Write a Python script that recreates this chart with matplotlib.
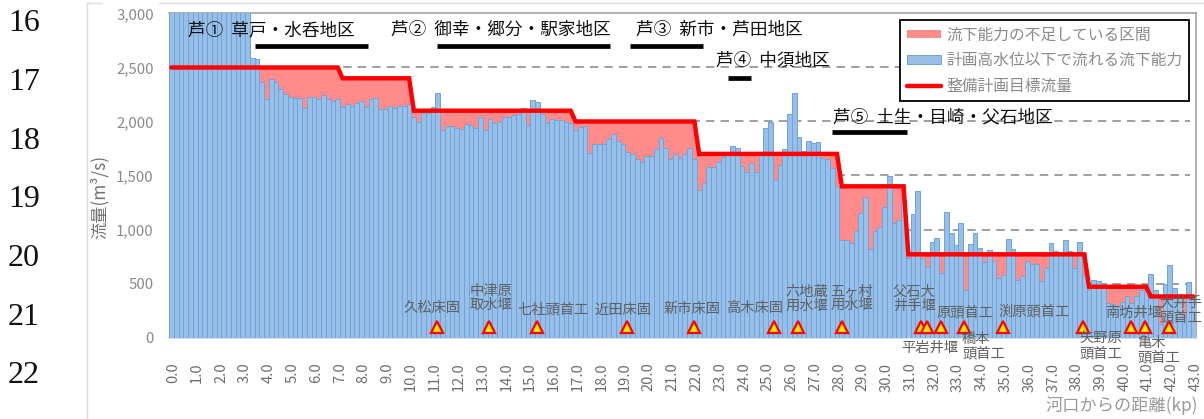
import matplotlib
matplotlib.use("Agg")
import matplotlib.pyplot as plt
from matplotlib.lines import Line2D
from matplotlib.transforms import ScaledTranslation
import numpy as np

plt.rcParams['font.family'] = ['Noto Sans CJK JP', 'DejaVu Sans']

W, H = 1204, 419

# ---- data ----
km = [round(i * 0.2, 1) for i in range(216)]
capacity = [
    3200, 3200, 3200, 3200, 3200, 3200, 3200, 3200, 3200, 3200, 3200, 3200, 3200, 3200, 3200, 3200, 3200,
    2590, 2576, 2369, 2208, 2390, 2369, 2298, 2254, 2230, 2220, 2214, 2125, 2224, 2230, 2205, 2248, 2205,
    2186, 2208, 2137, 2159, 2146, 2168, 2193, 2131, 2205, 2214, 2112, 2112, 2143, 2122, 2146, 2143,
    2159, 2045, 1992, 2075, 2075, 2131, 2261, 1921, 1955, 1955, 1943, 1927, 1980, 1964, 1936, 2041, 1921,
    2020, 1983, 1995, 2041, 2041, 2057, 2069, 2122, 1964, 2196, 2177, 2072, 1986, 2026, 2017, 2011, 1995,
    1983, 1924, 1946, 1961, 1711, 1794, 1788, 1788, 1835, 1884, 1819, 1794, 1714, 1696, 1656, 1622, 1677,
    1677, 1742, 1844, 1757, 1656, 1696, 1662, 1696, 1751, 1656, 1362, 1427, 1575, 1575, 1622, 1674, 1700,
    1773, 1751, 1591, 1529, 1615, 1535, 1700, 1936, 1992, 1455, 1600, 1742, 2066, 2267, 1853, 1727, 1819,
    1801, 1807, 1659, 1656, 1572, 1403, 905, 902, 872, 986, 1149, 1304, 819, 986, 1026, 1211, 1495, 1057,
    1088, 1273, 739, 1140, 1359, 739, 655, 881, 918, 600, 1165, 964, 856, 1057, 439, 865, 967, 825, 702,
    813, 708, 547, 578, 912, 820, 533, 573, 709, 684, 684, 520, 641, 872, 804, 770, 906, 804, 647, 888,
    579, 440, 533, 526, 502, 317, 307, 286, 326, 384, 317, 384, 440, 440, 588, 440, 125, 496, 672, 455,
    370, 193, 517, 380,
]
target = ([2500] * 36 + [2400] * 15 + [2100] * 34 + [2000] * 26 + [1700] * 30 +
          [1400] * 14 + [770] * 38 + [470] * 13 + [380] * 10)

weir_km = [11.17, 13.36, 15.38, 19.16, 21.98, 25.35, 26.35, 28.2, 31.53, 31.78, 32.37,
           33.34, 34.98, 38.34, 40.36, 40.95, 41.96]
weir_q = [97] * len(weir_km)

legend_labels = ['流下能力の不足している区間', '計画高水位以下で流れる流下能力', '整備計画目標流量']
y_ticks = [0, 500, 1000, 1500, 2000, 2500, 3000]
x_tick_km = [float(k) for k in range(44)]
grid_levels = [500, 1000, 1500, 2000, 2500]

# district: label, text-left px, text-centre-y px, span km start, end, level
districts = [
    ('芦①  草戸・水呑地区', 188, 30, 3.52, 8.27, 2700),
    ('芦②  御幸・郷分・駅家地区', 391, 30, 11.17, 18.45, 2700),
    ('芦③  新市・芦田地区', 636, 30, 19.29, 22.36, 2700),
    ('芦④  中須地区', 716, 61, 23.41, 24.38, 2403),
    ('芦⑤  土生・目崎・父石地区', 833, 118, 27.78, 30.93, 1903),
]
# facility labels: text, x px, y px, horizontal alignment
facilities = [
    ('久松床固', 432, 308, 'center'),
    ('中津原\n取水堰', 491, 298, 'center'),
    ('七社頭首工', 553, 309, 'center'),
    ('近田床固', 623, 310, 'center'),
    ('新市床固', 692, 309, 'center'),
    ('高木床固', 755, 308, 'center'),
    ('六地蔵\n用水堰', 807, 299, 'center'),
    ('五ヶ村\n用水堰', 852, 298, 'center'),
    ('父石大\n井手堰', 914, 299, 'center'),
    ('平岩井堰', 930, 348, 'center'),
    ('原頭首工', 965, 312, 'center'),
    ('橋本\n頭首工', 962, 346, 'left'),
    ('渕原頭首工', 1034, 311, 'center'),
    ('矢野原\n頭首工', 1101, 346, 'center'),
    ('南坊井堰', 1134, 313, 'center'),
    ('亀木\n頭首工', 1137, 350, 'left'),
    ('大井手\n頭首工', 1181, 310, 'center'),
]
page_numbers = [('16', 21), ('17', 80), ('18', 139), ('19', 197), ('20', 256), ('21', 315), ('22', 373)]

# ---- figure ----
fig = plt.figure(figsize=(W / 100, H / 100), dpi=100)
ax_l, ax_r, ax_t, ax_b = 169, 1196, 13.5, 337.5
ax = fig.add_axes([ax_l / W, 1 - ax_b / H, (ax_r - ax_l) / W, (ax_b - ax_t) / H])


def px(x, y):
    return x / W, 1 - y / H


cap = np.array(capacity, float)
tgt = np.array(target, float)
kms = np.array(km)
short = cap < tgt

ax.grid(False)
ax.hlines(grid_levels, -0.1, 42.85, color='#858585', lw=1.1, ls=(0, (5.5, 4)), zorder=1)

pink = ax.bar(kms[short], (tgt - cap)[short], bottom=cap[short], width=0.2,
              color='#ff8b8b', edgecolor='none', zorder=2.9, label=legend_labels[0])
blue = ax.bar(kms, cap, width=0.2, color='#97bfe7', edgecolor='#6ea4dc', linewidth=0.7,
              zorder=3, label=legend_labels[1])
line, = ax.plot(kms, tgt, color='#ff0000', lw=3.2, zorder=4, solid_joinstyle='miter',
                solid_capstyle='round', label=legend_labels[2])
ax.plot(weir_km, weir_q, ls='none', marker='^', ms=8.5, mfc='#ffe600', mec='#ff0000', mew=1.6, zorder=5)

ax.set_xlim(-0.1, 43.1)
ax.set_ylim(0, 3000)
ax.set_yticks(y_ticks)
ax.set_yticklabels([f'{v:,}' for v in y_ticks], fontsize=10.8, color='#8a8a8a')
ax.set_xticks(x_tick_km)
ax.set_xticklabels([f'{v:.1f}' for v in x_tick_km], rotation=90, fontsize=10.6, color='#6e6e6e')
ax.tick_params(axis='x', length=0, pad=18)
ax.tick_params(axis='y', length=0, pad=11)
shift = ScaledTranslation(1.5 / 72, 0, fig.dpi_scale_trans)
for lab in ax.get_xticklabels():
    lab.set_transform(lab.get_transform() + shift)

ax.spines['left'].set_visible(False)
ax.spines['bottom'].set_color('#d4d4d4')
ax.spines['top'].set_color('#9a9a9a')
ax.spines['right'].set_color('#9a9a9a')
for s in ax.spines.values():
    s.set_zorder(1)
    s.set_linewidth(1.1)

# district labels and span bars
for label, tx, ty, k0, k1, lv in districts:
    fx, fy = px(tx, ty)
    fig.text(fx, fy, label, fontsize=12.7, color='#111111', ha='left', va='center', zorder=8)
    ax.plot([k0, k1], [lv, lv], color='black', lw=3.4, solid_capstyle='butt', zorder=6)

# facility labels
for label, tx, ty, ha in facilities:
    fx, fy = px(tx, ty)
    fig.text(fx, fy, label, fontsize=10.3, color='#606060', ha=ha, va='center',
             linespacing=1.02, multialignment='left' if ha == 'left' else 'center', zorder=8)

# axis titles
fx, fy = px(100, 197)
fig.text(fx, fy, '流量(m³/s)', rotation=90, fontsize=12.4, color='#707070', ha='center', va='center')
fx, fy = px(1198, 406)
fig.text(fx, fy, '河口からの距離(kp)', fontsize=12.4, color='#9a9a9a', ha='right', va='center')

# page numbers
for num, y in page_numbers:
    fx, fy = px(24, y + 2.5)
    fig.text(fx, fy, num, fontsize=23, family='Liberation Serif', color='#111111', ha='center', va='center')

# outer frame lines
for (x0, y0, x1, y1) in [(87, 3, 87, 419), (87, 3, 102, 3), (159, 3, 1204, 3)]:
    fig.add_artist(Line2D([x0 / W, x1 / W], [1 - y0 / H, 1 - y1 / H], color='#dcdcdc', lw=1))

# legend
lx, ly = px(1189, 20)
inv = ax.transAxes.inverted()
anchor = inv.transform(fig.transFigure.transform((lx, ly)))
leg = ax.legend(handles=[pink, blue, line], labels=legend_labels, loc='upper right',
                bbox_to_anchor=tuple(anchor), fontsize=11.3, labelcolor='#8a8a8a',
                fancybox=False, framealpha=1, edgecolor='black', borderaxespad=0,
                handlelength=2.2, handleheight=0.45, handletextpad=0.3, labelspacing=0.55,
                borderpad=0.42)
leg.get_frame().set_linewidth(1.3)
leg.set_zorder(7)

fig.savefig('out.png', dpi=100)
